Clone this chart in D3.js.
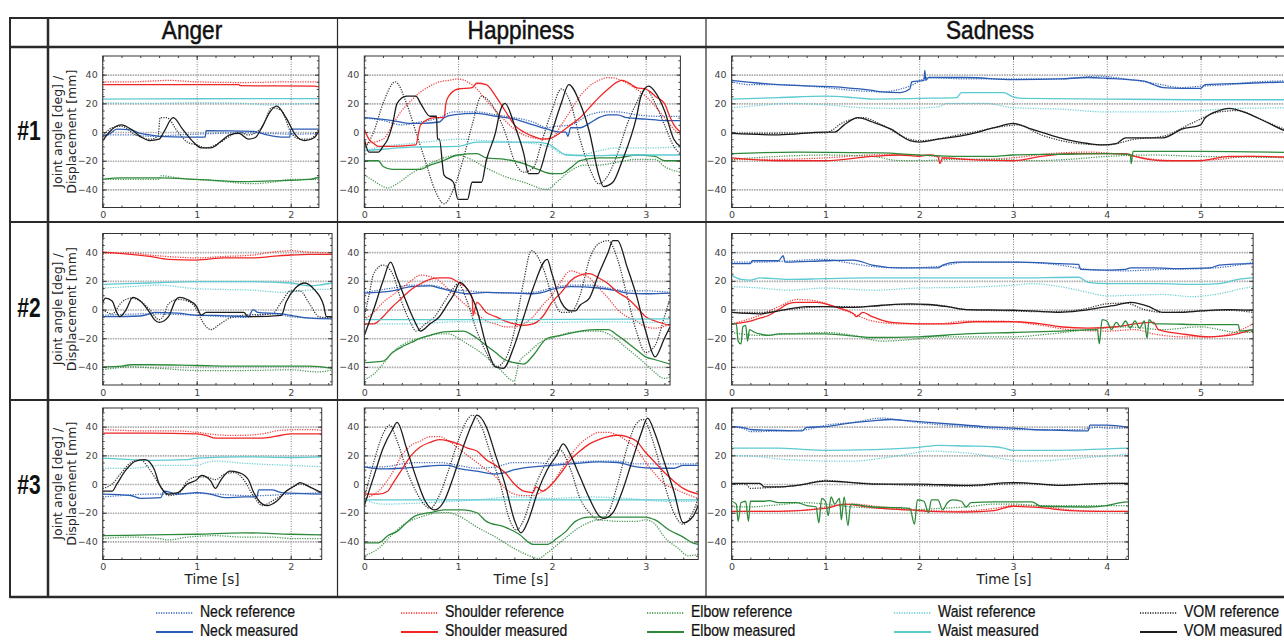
<!DOCTYPE html>
<html>
<head>
<meta charset="utf-8">
<script src="https://cdn.jsdelivr.net/npm/d3@7"></script>
<style>
  body { margin: 0; background: #fff; }
  .tick text { font-family: 'DejaVu Sans', sans-serif; font-size: 9.5px; fill: #444; }
</style>
</head>
<body>
<div id="chart"></div>
<script>
const emotions = ['Anger', 'Happiness', 'Sadness']
const trials = ['#1', '#2', '#3']
const joints = ['Neck', 'Shoulder', 'Elbow', 'Waist', 'VOM']
const yTicks = [-40, -20, 0, 20, 40]
const durations = [[2.3, 3.37, 6.2], [2.44, 3.26, 5.56], [2.33, 3.56, 4.23]]

// ---- Anger #1
const a1NeckRef = [[0,-2],[0.3,-2],[0.5,-3],[0.8,-2],[1.2,-1],[1.5,-0.5],[1.8,-1],[2.0,-1.5],[2.3,-1]]
const a1NeckMeas = [[0,-3],[0.08,-1],[0.15,2],[0.3,1.5],[0.4,-1],[0.5,-2],[0.6,-3],[0.9,-3.5],[1.09,-3.5],[1.1,1],[1.6,0.5],[1.75,-2],[1.9,-3.5],[1.99,-3.5],[2.0,2],[2.3,2]]
const a1ShoulderRef = [[0,35],[0.3,35],[0.5,35.5],[0.7,36],[1.0,35],[1.5,34.5],[2.0,35],[2.3,35]]
const a1ShoulderMeas = [[0,33],[1.45,33],[1.46,32.3],[2.25,32],[2.3,31.5]]
const a1ElbowRef = [[0,-33],[0.6,-33],[0.62,-30.5],[0.8,-32],[1.2,-34],[1.6,-36],[1.8,-35],[2.0,-33],[2.3,-33]]
const a1ElbowMeas = [[0,-33],[0.2,-32],[0.6,-32],[1.0,-33],[1.5,-34.5],[1.8,-34],[2.2,-33],[2.3,-31.5]]
const a1WaistRef = [[0,20.5],[0.5,20],[1.0,20.5],[1.5,20],[1.8,18.8],[2.0,19.5],[2.3,20]]
const a1WaistMeas = [[0,23],[1.0,23.2],[2.3,23.3]]
const a1VomRef = [[0,-3],[0.1,3],[0.2,4],[0.35,-2],[0.5,-5],[0.59,-3],[0.61,10],[0.68,10],[0.8,0],[0.9,-7],[1.0,-9],[1.1,-11],[1.2,-9],[1.35,-3],[1.45,0],[1.55,-2],[1.7,4],[1.8,17],[1.9,15],[2.0,0],[2.1,-5],[2.2,-5],[2.3,2]]
const a1VomMeas = [[0,-6],[0.1,2],[0.2,5],[0.3,2],[0.4,-3],[0.5,-6],[0.6,-5],[0.65,0],[0.75,10],[0.85,2],[0.95,-6],[1.05,-11],[1.15,-11],[1.25,-7],[1.35,-2],[1.45,-1],[1.55,-5],[1.62,-4],[1.7,4],[1.78,14],[1.85,18],[1.95,10],[2.05,-2],[2.15,-6],[2.25,-4],[2.3,1]]

// ---- Happiness #1
const h1NeckRef = [[0,10],[0.2,8],[0.4,5],[0.6,7],[0.8,10],[0.95,14],[1.2,14],[1.4,12],[1.6,10],[1.8,7],[1.95,3],[2.05,4],[2.2,5],[2.4,12],[2.55,14],[2.7,14],[2.9,12],[3.1,11],[3.37,11]]
const h1NeckMeas = [[0,10],[0.3,8],[0.5,6],[0.6,6],[0.8,7],[0.85,10],[0.95,12],[1.2,13],[1.4,11],[1.6,9],[1.8,5],[1.95,2],[2.1,0],[2.15,0],[2.17,-3],[2.2,3],[2.3,3],[2.4,6],[2.5,10],[2.6,12],[2.7,12],[2.8,10],[3.0,9],[3.2,8],[3.37,8]]
const h1ShoulderRef = [[0,-8],[0.2,-5],[0.3,5],[0.4,15],[0.5,22],[0.6,28],[0.7,32],[0.8,35],[0.9,36],[1.0,37],[1.1,35],[1.2,30],[1.3,22],[1.4,15],[1.5,8],[1.6,2],[1.7,-2],[1.8,-4],[1.9,-5],[2.0,-4],[2.1,5],[2.2,15],[2.3,25],[2.4,32],[2.5,36],[2.6,38],[2.7,37],[2.8,34],[2.9,30],[3.0,25],[3.1,18],[3.2,10],[3.3,2],[3.37,-2]]
const h1ShoulderMeas = [[0,2],[0.05,-5],[0.1,-8],[0.15,-10],[0.3,-10],[0.55,-9],[0.58,0],[0.6,5],[0.75,10],[0.85,10],[0.87,20],[0.9,25],[1.0,30],[1.15,31],[1.2,34],[1.3,33],[1.4,25],[1.5,15],[1.6,5],[1.7,0],[1.8,-3],[1.9,-5],[2.0,-4],[2.1,0],[2.2,5],[2.3,10],[2.4,17],[2.5,24],[2.6,30],[2.7,35],[2.75,36],[2.85,33],[2.9,31],[3.0,30],[3.05,28],[3.1,25],[3.2,20],[3.25,12],[3.3,5],[3.37,0]]
const h1ElbowRef = [[0,-30],[0.1,-34],[0.2,-38],[0.25,-39],[0.35,-36],[0.5,-29],[0.7,-22],[0.9,-17],[1.0,-16],[1.1,-18],[1.3,-25],[1.5,-31],[1.7,-35],[1.95,-40],[2.05,-35],[2.2,-27],[2.35,-23],[2.5,-23],[2.7,-21],[2.9,-19],[3.1,-19],[3.2,-24],[3.37,-28]]
const h1ElbowMeas = [[0,-20],[0.15,-20],[0.2,-24],[0.3,-26],[0.6,-26],[0.7,-23],[0.8,-21],[1.0,-16],[1.2,-15],[1.3,-18],[1.5,-19],[1.7,-22],[1.85,-26],[2.0,-29],[2.1,-29],[2.2,-25],[2.3,-20],[2.5,-18],[2.7,-18],[2.9,-16],[3.1,-17],[3.2,-20],[3.37,-20]]
const h1WaistRef = [[0,-13],[0.2,-10],[0.5,-8],[0.8,-6],[1.0,-5],[1.3,-6],[1.6,-7],[1.9,-9],[2.0,-11],[2.1,-15],[2.3,-16],[2.5,-13],[2.7,-11],[3.1,-11],[3.37,-10]]
const h1WaistMeas = [[0,-13],[0.2,-12],[0.5,-10.5],[1.0,-10],[1.2,-7],[1.8,-7],[1.95,-8],[2.05,-12],[2.15,-16],[2.4,-16.5],[2.8,-16],[3.37,-16]]
const h1VomRef = [[0,-12],[0.1,0],[0.2,20],[0.33,35],[0.45,20],[0.55,0],[0.65,-20],[0.75,-40],[0.85,-50],[0.95,-40],[1.05,-20],[1.15,5],[1.25,25],[1.35,20],[1.5,0],[1.6,-20],[1.7,-28],[1.8,-25],[1.9,-5],[2.0,15],[2.1,30],[2.2,20],[2.3,-5],[2.4,-25],[2.5,-36],[2.6,-30],[2.7,-15],[2.8,5],[2.9,20],[3.0,30],[3.1,20],[3.2,5],[3.3,-10],[3.37,-15]]
const h1VomMeas = [[0,-5],[0.05,-14],[0.15,-14],[0.2,-10],[0.25,-5],[0.3,5],[0.35,20],[0.45,25],[0.55,25],[0.6,20],[0.7,11],[0.77,11],[0.78,-5],[0.8,-5],[0.85,-30],[0.95,-35],[1.0,-47],[1.1,-47],[1.15,-35],[1.25,-35],[1.3,-20],[1.4,0],[1.45,15],[1.5,20],[1.6,5],[1.7,-15],[1.75,-29],[1.85,-29],[1.95,-10],[2.0,0],[2.1,20],[2.18,33],[2.3,20],[2.4,0],[2.5,-30],[2.55,-38],[2.65,-35],[2.75,-20],[2.9,10],[2.95,25],[3.03,32],[3.1,28],[3.2,15],[3.3,-5],[3.37,-10]]

// ---- Sadness #1
const s1NeckRef = [[0,35],[0.2,33],[0.5,33],[1.0,31],[1.3,29],[1.6,28],[1.9,32],[2.1,38],[2.5,37],[3.0,37],[3.5,37],[3.9,39],[4.2,37],[4.5,34],[4.8,31],[5.0,32],[5.3,33],[5.6,35],[6.2,36]]
const s1NeckMeas = [[0,36],[0.3,34],[0.5,33],[0.9,32],[1.2,31],[1.5,29],[1.6,28],[1.8,27.5],[1.9,30],[1.92,35],[2.05,36],[2.06,43],[2.07,36],[2.1,38],[2.5,38],[3.0,36.5],[3.5,37],[3.8,38],[4.0,37.5],[4.4,35.5],[4.5,33],[4.6,31],[4.8,30.5],[5.0,30.5],[5.05,33],[5.5,34],[6.2,35.5]]
const s1ShoulderRef = [[0,-19],[0.5,-19],[1.0,-18],[1.5,-16],[2.0,-16],[2.3,-18],[2.6,-19],[3.0,-18],[3.4,-15],[3.8,-14],[4.2,-16],[4.5,-19],[4.8,-20],[5.2,-19],[5.5,-17],[6.2,-19]]
const s1ShoulderMeas = [[0,-18],[0.5,-20],[1.0,-20],[1.5,-17],[1.8,-16],[2.0,-17],[2.1,-16],[2.2,-17],[2.22,-22],[2.25,-18],[2.5,-19],[3.0,-20],[3.3,-17],[3.6,-15],[4.2,-15],[4.3,-17],[4.6,-20],[5.0,-20],[5.1,-19],[5.3,-17],[5.6,-17],[6.2,-18]]
const s1ElbowRef = [[0,-19],[0.5,-17],[1.0,-16],[1.5,-17],[1.8,-20],[2.0,-20],[2.4,-19],[2.8,-19],[3.2,-20],[3.6,-19],[4.0,-17],[4.5,-16],[5.0,-17],[5.5,-17.5],[6.2,-18]]
const s1ElbowMeas = [[0,-15],[0.7,-14],[1.6,-14.5],[2.0,-16],[2.5,-17],[2.8,-17],[3.0,-16],[3.5,-15.5],[4.0,-15],[4.25,-15.5],[4.26,-22],[4.28,-13.5],[5.0,-13.5],[6.2,-14.5]]
const s1WaistRef = [[0,17],[0.3,18.5],[0.6,20],[1.0,19],[1.4,17],[1.8,16.5],[2.2,17.5],[2.3,20],[2.7,20],[3.0,17],[3.5,16],[4.0,14],[4.5,14],[5.0,15],[5.4,16.5],[6.2,17]]
const s1WaistMeas = [[0,23],[0.5,24],[1.0,25],[1.3,24],[1.5,23],[2.0,23.5],[2.4,24],[2.45,27.5],[2.9,27.5],[3.0,24.5],[3.1,23.5],[4.0,23],[5.0,22.5],[6.2,22.5]]
const s1VomRef = [[0,-1],[1.0,-0.5],[1.2,7],[1.4,10],[1.6,5],[1.9,-5],[2.0,-6],[2.5,-1],[2.9,4],[3.05,5],[3.3,-2],[3.7,-8],[4.0,-9],[4.3,-5],[4.6,-3],[4.9,6],[5.2,14],[5.4,15],[5.6,10],[5.9,2],[6.2,-2]]
const s1VomMeas = [[0,-1],[0.5,-2],[1.0,0],[1.1,0],[1.2,5],[1.35,10],[1.5,7],[1.7,2],[1.9,-6],[2.0,-7],[2.2,-5],[2.5,-2],[2.8,3],[3.0,6],[3.2,2],[3.5,-4],[3.8,-8],[3.95,-9],[4.1,-8],[4.2,-4],[4.6,-4],[4.8,2],[5.0,5],[5.05,10],[5.2,15],[5.3,16.5],[5.5,13],[5.7,7],[5.9,1],[6.2,-2]]

// ---- Anger #2
const a2NeckRef = [[0,-4],[0.5,-3],[1.0,-4],[1.5,-5.5],[1.8,-3],[2.0,-5],[2.3,-6],[2.44,-5.5]]
const a2NeckMeas = [[0,-5],[0.4,-4.5],[0.5,-3],[0.55,-2],[0.8,-2.5],[1.0,-4],[1.2,-4],[1.55,-5],[1.6,0],[1.65,-2],[1.9,-3],[2.0,-4],[2.2,-6],[2.44,-6.5]]
const a2ShoulderRef = [[0,39],[0.3,39.5],[0.5,38],[0.8,36.5],[1.0,36],[1.3,37],[1.6,38],[1.8,40],[2.0,41],[2.2,40],[2.44,39.5]]
const a2ShoulderMeas = [[0,40],[0.3,38.5],[0.5,37],[0.7,35],[1.0,34.5],[1.3,36],[1.6,36],[1.8,37],[2.0,38],[2.2,38.5],[2.44,38.5]]
const a2ElbowRef = [[0,-42],[0.3,-40],[0.6,-41],[1.0,-42.5],[1.5,-42.5],[2.0,-42],[2.3,-43.5],[2.44,-42]]
const a2ElbowMeas = [[0,-40],[0.2,-39.5],[0.3,-38.5],[0.5,-38.5],[1.0,-39],[1.5,-39.5],[2.2,-39.5],[2.44,-41]]
const a2WaistRef = [[0,15],[0.3,16],[0.6,17],[1.0,14.5],[1.3,14],[1.6,13.5],[1.9,12],[2.1,13],[2.3,14],[2.44,14]]
const a2WaistMeas = [[0,17.5],[0.5,18.5],[1.0,19.5],[1.5,19.5],[2.0,18.5],[2.2,16.5],[2.3,17],[2.44,18.5]]
const a2VomRef = [[0,0],[0.1,-3],[0.2,5],[0.3,8],[0.4,6],[0.5,0],[0.6,-7],[0.65,-4],[0.7,4],[0.8,7],[0.9,6],[1.0,0],[1.05,-7],[1.1,-12],[1.15,-14],[1.25,-10],[1.35,-6],[1.5,-4],[1.8,-3],[1.9,5],[2.0,13],[2.1,13],[2.2,4],[2.3,-5],[2.44,-6]]
const a2VomMeas = [[0,5],[0.03,8],[0.1,6],[0.15,-2],[0.18,-5],[0.25,0],[0.32,8.5],[0.4,6],[0.5,-2],[0.55,-7],[0.6,-9],[0.7,-5],[0.78,7],[0.82,8.5],[0.9,7],[1.0,2],[1.05,-4],[1.1,-2],[1.5,-2],[1.55,-5],[1.9,-4],[1.95,5],[2.05,15],[2.15,18.5],[2.25,14],[2.35,3],[2.38,-5],[2.44,-5]]

// ---- Happiness #2
const h2NeckRef = [[0,12],[0.3,15],[0.5,17],[0.7,17],[0.9,14],[1.1,13],[1.3,12],[1.5,11.5],[1.8,12],[2.0,15],[2.2,17],[2.4,17],[2.6,15],[2.8,13],[3.0,13],[3.26,12]]
const h2NeckMeas = [[0,11.5],[0.3,13],[0.5,16],[0.7,16.5],[0.8,15],[1.0,12],[1.1,11],[1.3,12],[1.6,11.5],[1.8,11],[1.9,12],[2.0,14],[2.2,16],[2.5,15],[2.7,13],[2.8,11.5],[3.0,11],[3.26,11.5]]
const h2ShoulderRef = [[0,-7],[0.1,-2],[0.2,5],[0.3,10],[0.4,15],[0.5,20],[0.6,24],[0.7,23],[0.8,20],[0.9,14],[1.0,8],[1.1,2],[1.2,-3],[1.3,-8],[1.4,-10],[1.5,-12],[1.6,-12],[1.7,-10],[1.8,-5],[1.9,3],[2.0,10],[2.1,20],[2.2,27],[2.3,25],[2.4,22],[2.5,15],[2.6,8],[2.7,0],[2.8,-5],[2.9,-8],[3.0,-12],[3.1,-13],[3.26,-10]]
const h2ShoulderMeas = [[0,-10],[0.1,-10],[0.2,-5],[0.3,2],[0.4,8],[0.5,14],[0.6,18],[0.7,21],[0.8,22],[0.9,22],[1.0,19],[1.1,14],[1.15,8],[1.16,-4],[1.2,5],[1.3,-2],[1.4,-5],[1.5,-8],[1.6,-10],[1.7,-11],[1.8,-10],[1.9,-5],[2.0,5],[2.1,12],[2.2,20],[2.3,24],[2.4,25],[2.5,22],[2.6,18],[2.7,12],[2.8,8],[2.9,2],[3.0,-5],[3.1,-8],[3.26,-11]]
const h2ElbowRef = [[0,-49],[0.1,-45],[0.2,-38],[0.3,-30],[0.45,-23],[0.6,-20],[0.8,-17],[0.9,-17],[1.0,-20],[1.1,-24],[1.2,-28],[1.3,-33],[1.45,-42],[1.6,-50],[1.62,-45],[1.65,-37],[1.75,-30],[1.9,-22],[2.0,-20],[2.2,-16],[2.5,-15],[2.6,-17],[2.8,-27],[3.0,-38],[3.1,-44],[3.2,-48],[3.26,-47]]
const h2ElbowMeas = [[0,-37],[0.2,-36],[0.3,-30],[0.4,-26],[0.5,-23],[0.6,-20],[0.7,-18],[0.85,-15.5],[1.05,-15],[1.2,-20],[1.3,-25],[1.4,-30],[1.5,-35],[1.6,-37],[1.7,-38],[1.8,-32],[1.95,-20],[2.1,-18],[2.3,-15],[2.5,-14],[2.6,-14],[2.7,-18],[2.9,-28],[3.0,-33],[3.1,-35],[3.26,-38]]
const h2WaistRef = [[0,-10],[0.5,-10],[1.0,-8.5],[1.5,-9],[2.0,-9],[2.5,-8.5],[3.0,-9],[3.26,-9]]
const h2WaistMeas = [[0,-7],[1.5,-7],[3.26,-6.5]]
const h2VomRef = [[0,-5],[0.05,10],[0.1,25],[0.2,31],[0.3,25],[0.4,5],[0.5,-10],[0.55,-15],[0.65,-10],[0.75,-5],[0.85,5],[0.95,15],[1.0,18],[1.1,5],[1.2,-15],[1.3,-30],[1.4,-40],[1.5,-35],[1.6,-15],[1.7,20],[1.78,41],[1.9,30],[2.0,10],[2.1,-2],[2.2,-2],[2.3,10],[2.4,35],[2.5,46],[2.6,48],[2.7,35],[2.8,10],[2.9,-15],[3.0,-30],[3.1,-25],[3.2,-5],[3.26,8]]
const h2VomMeas = [[0,-18],[0.1,0],[0.2,20],[0.28,33],[0.35,22],[0.45,5],[0.5,-3],[0.55,-10],[0.6,-15],[0.7,-10],[0.8,-5],[0.9,5],[0.95,10],[1.02,19],[1.1,14],[1.2,0],[1.3,-25],[1.4,-40],[1.48,-41],[1.6,-25],[1.7,-5],[1.8,15],[1.95,35],[2.0,25],[2.1,5],[2.2,-1],[2.25,-1],[2.3,3],[2.4,8],[2.5,25],[2.6,40],[2.65,48],[2.7,48],[2.8,30],[2.9,10],[3.0,-15],[3.1,-33],[3.2,-20],[3.26,-12]]

// ---- Sadness #2
const s2NeckRef = [[0,33],[0.3,33],[0.5,33.5],[1.0,35],[1.2,33],[1.5,30],[1.8,29],[2.2,30],[2.5,33],[3.0,33],[3.5,31],[3.8,28],[4.2,27],[4.6,28],[5.0,28.5],[5.3,30],[5.56,33]]
const s2NeckMeas = [[0,32],[0.2,32],[0.22,34],[0.5,34],[0.55,37.5],[0.57,33],[1.0,34],[1.3,34.5],[1.5,31],[1.8,29],[2.2,29],[2.25,31],[2.4,33],[3.0,33],[3.5,32],[3.7,31.5],[3.72,28],[4.0,27.5],[4.2,28],[4.25,29],[4.5,29],[4.8,28.5],[5.1,29],[5.2,31],[5.56,32]]
const s2ShoulderRef = [[0,-10],[0.3,-4],[0.5,2],[0.7,7],[0.9,6],[1.1,2],[1.3,-3],[1.5,-8],[1.8,-10],[2.2,-10],[2.5,-8],[2.8,-8],[3.0,-8.5],[3.3,-11],[3.6,-14],[4.0,-15],[4.3,-14],[4.5,-17],[4.8,-19],[5.1,-19],[5.4,-15],[5.56,-10]]
const s2ShoulderMeas = [[0,-10],[0.2,-8],[0.3,-6],[0.4,-4],[0.5,0],[0.6,4],[0.7,5],[0.9,5],[1.0,4],[1.1,2],[1.2,0],[1.3,-3],[1.33,-5],[1.4,-2],[1.5,-5],[1.7,-9],[2.0,-10],[2.3,-10],[2.6,-8.5],[3.0,-8.5],[3.3,-10],[3.5,-12],[3.8,-13],[4.1,-12],[4.3,-10],[4.5,-9],[4.55,-14],[4.8,-17],[5.1,-19],[5.3,-18],[5.56,-14]]
const s2ElbowRef = [[0,-16],[0.3,-18],[0.6,-17],[1.0,-16],[1.3,-18],[1.6,-22],[1.9,-21],[2.2,-19],[2.6,-19],[3.0,-19],[3.4,-17],[3.8,-14],[4.2,-12],[4.6,-14],[5.0,-12],[5.2,-14],[5.4,-16],[5.56,-16]]
const s2ElbowMeas = [[0,-10],[0.05,-10],[0.07,-22],[0.1,-24],[0.12,-12],[0.15,-11],[0.17,-22],[0.19,-14],[0.25,-16],[0.3,-17],[0.4,-18],[0.5,-17],[1.0,-17],[1.5,-19.5],[2.0,-19],[2.5,-17],[3.0,-16],[3.5,-15],[3.9,-14],[3.92,-24],[3.95,-7],[4.0,-8],[4.05,-14],[4.1,-9],[4.15,-12],[4.2,-8],[4.25,-13],[4.3,-8],[4.35,-13],[4.4,-8],[4.43,-20],[4.45,-7],[4.5,-10],[4.6,-10],[5.0,-10.5],[5.4,-10.5],[5.42,-15],[5.56,-14]]
const s2WaistRef = [[0,16],[0.3,15],[0.6,13.5],[1.0,15],[1.5,13.5],[2.0,15],[2.5,15.5],[3.0,17],[3.2,18],[3.5,16],[3.8,12],[4.0,9.5],[4.3,10],[4.6,10.5],[4.9,9],[5.2,11],[5.4,14],[5.56,16]]
const s2WaistMeas = [[0,24],[0.1,21],[0.2,20.5],[0.3,22],[0.6,21],[1.0,21.5],[1.5,22],[3.0,22],[3.7,22.5],[3.8,19],[4.0,18],[4.5,18],[5.0,17.5],[5.2,18],[5.4,21],[5.56,22]]
const s2VomRef = [[0,-2],[0.3,-2],[0.6,0],[1.0,2],[1.4,2],[1.8,3.5],[2.2,3],[2.5,0],[3.0,-1],[3.3,-1.5],[3.6,-1],[3.8,1],[4.0,4],[4.2,4.5],[4.4,0],[4.6,-2],[5.0,-1],[5.3,-0.5],[5.56,-2]]
const s2VomMeas = [[0,-2],[0.3,-3],[0.5,-1],[0.8,2],[1.0,2],[1.3,1.5],[1.6,3],[1.9,4],[2.1,3.5],[2.3,2],[2.5,0],[3.0,-0.5],[3.2,-1],[3.5,-2],[3.7,-1],[3.9,1],[4.1,3],[4.25,5],[4.35,4],[4.45,2],[4.6,-2],[4.8,-2],[5.0,-1],[5.3,0],[5.56,-0.5]]

// ---- Anger #3
const a3NeckRef = [[0,-9],[0.2,-8],[0.5,-7],[0.8,-7],[1.0,-6.5],[1.2,-7],[1.5,-8],[1.7,-8],[2.0,-7],[2.33,-6]]
const a3NeckMeas = [[0,-7],[0.3,-8],[0.4,-10],[0.62,-9.5],[0.65,-5],[0.8,-7],[1.0,-6],[1.1,-6.5],[1.2,-8],[1.3,-9.5],[1.5,-9],[1.64,-9],[1.66,-4],[1.8,-4],[1.9,-6],[2.33,-7]]
const a3ShoulderRef = [[0,38],[0.5,37],[0.8,37],[1.0,36],[1.3,34],[1.5,34],[1.7,35],[1.9,37.5],[2.2,38],[2.33,37.5]]
const a3ShoulderMeas = [[0,35.5],[0.5,35.5],[1.0,35],[1.1,34],[1.2,32],[1.7,32],[1.9,34],[2.0,35],[2.33,35]]
const a3ElbowRef = [[0,-38],[0.3,-37],[0.6,-38],[0.7,-39],[0.9,-37],[1.2,-36],[1.5,-37],[1.8,-37],[2.0,-38],[2.33,-38]]
const a3ElbowMeas = [[0,-36],[0.5,-35.5],[1.0,-35],[1.5,-34],[2.0,-35],[2.33,-35.5]]
const a3WaistRef = [[0,11],[0.3,11],[0.6,13],[1.0,13],[1.1,15],[1.2,16],[1.5,14.5],[1.8,13.5],[2.0,13],[2.33,12]]
const a3WaistMeas = [[0,18],[0.3,17],[0.5,16.5],[0.9,17],[1.0,18],[1.5,19],[2.0,18.5],[2.33,19]]
const a3VomRef = [[0,-3],[0.1,0],[0.2,8],[0.3,15],[0.4,17],[0.5,10],[0.6,0],[0.7,-8],[0.8,-7],[0.9,2],[1.0,5],[1.1,5],[1.2,3],[1.3,7],[1.4,8],[1.5,3],[1.6,-8],[1.7,-15],[1.8,-12],[1.9,-8],[2.0,-3],[2.1,0],[2.2,-2],[2.33,-7]]
const a3VomMeas = [[0,-5],[0.1,-5],[0.15,0],[0.25,10],[0.35,16],[0.45,17],[0.55,10],[0.6,0],[0.65,-5],[0.7,-7],[0.8,-6],[0.9,0],[1.0,3],[1.05,6],[1.15,2],[1.2,-3],[1.25,2],[1.35,9],[1.45,8],[1.55,3],[1.6,-5],[1.7,-14],[1.75,-15],[1.85,-12],[1.95,-5],[2.05,-1],[2.1,1],[2.2,-2],[2.33,-6]]

// ---- Happiness #3
const h3NeckRef = [[0,12],[0.2,12],[0.4,14],[0.6,15],[0.8,15],[1.0,13],[1.2,11],[1.4,12],[1.6,15],[1.8,15],[2.0,14],[2.2,15],[2.5,16],[2.7,16],[2.9,14],[3.3,14],[3.56,14]]
const h3NeckMeas = [[0,12],[0.2,10.5],[0.4,11],[0.6,12],[0.8,13],[0.9,13],[1.0,11],[1.2,9],[1.4,7],[1.5,8],[1.6,10],[1.8,12],[2.0,13],[2.2,14],[2.5,15.5],[2.7,15],[2.9,12],[3.1,11],[3.3,11],[3.4,13],[3.56,13]]
const h3ShoulderRef = [[0,-10],[0.15,-5],[0.3,8],[0.4,20],[0.5,27],[0.6,30],[0.7,33],[0.8,33],[0.9,30],[1.0,25],[1.1,20],[1.2,15],[1.3,10],[1.4,5],[1.5,-3],[1.6,-7],[1.7,-8],[1.8,-8],[1.9,-5],[2.0,0],[2.1,10],[2.2,20],[2.3,28],[2.4,33],[2.5,36],[2.6,36],[2.7,34],[2.8,30],[2.9,25],[3.0,15],[3.1,7],[3.2,0],[3.3,-3],[3.4,-6],[3.56,-10]]
const h3ShoulderMeas = [[0,-7],[0.15,-7],[0.25,-5],[0.3,0],[0.4,10],[0.5,20],[0.6,26],[0.7,29],[0.8,31],[0.9,30],[1.0,28],[1.1,25],[1.2,23],[1.3,17],[1.4,13],[1.5,8],[1.6,0],[1.7,-5],[1.8,-6],[1.83,-2],[1.9,-5],[2.0,0],[2.1,8],[2.2,17],[2.3,23],[2.4,28],[2.5,31],[2.6,33],[2.7,34],[2.8,33],[2.9,30],[3.0,22],[3.1,15],[3.2,8],[3.3,2],[3.4,-3],[3.56,-7]]
const h3ElbowRef = [[0,-50],[0.15,-45],[0.3,-35],[0.45,-27],[0.6,-23],[0.8,-20],[0.9,-20],[1.0,-22],[1.2,-30],[1.4,-37],[1.6,-45],[1.8,-51],[1.85,-52],[1.95,-48],[2.1,-40],[2.3,-30],[2.5,-25],[2.7,-26],[2.9,-26],[3.0,-25],[3.1,-28],[3.2,-37],[3.35,-45],[3.45,-50],[3.56,-49]]
const h3ElbowMeas = [[0,-41],[0.15,-41],[0.25,-36],[0.35,-33],[0.45,-27],[0.55,-22],[0.7,-20],[0.85,-18],[1.05,-18],[1.2,-20],[1.3,-26],[1.5,-30],[1.65,-35],[1.8,-42],[1.95,-42],[2.05,-38],[2.15,-33],[2.25,-26],[2.4,-23],[3.0,-23],[3.1,-25],[3.25,-32],[3.4,-37],[3.5,-41],[3.56,-42]]
const h3WaistRef = [[0,-11],[0.2,-14],[0.5,-13.5],[0.8,-12.5],[1.2,-11],[1.6,-9],[2.0,-10],[2.4,-9],[2.8,-10],[3.2,-12],[3.56,-12]]
const h3WaistMeas = [[0,-11],[1.5,-11],[3.56,-11]]
const h3VomRef = [[0,-10],[0.1,15],[0.2,35],[0.27,41],[0.35,30],[0.45,10],[0.55,-5],[0.65,-15],[0.7,-17],[0.8,-8],[0.9,10],[1.0,30],[1.1,45],[1.15,48],[1.25,40],[1.35,20],[1.45,0],[1.55,-25],[1.62,-32],[1.7,-25],[1.8,-5],[1.9,10],[2.0,20],[2.08,24],[2.2,10],[2.3,-10],[2.4,-20],[2.5,-25],[2.6,-20],[2.7,0],[2.8,25],[2.9,42],[2.97,45],[3.1,25],[3.2,0],[3.3,-20],[3.4,-28],[3.5,-20],[3.56,-10]]
const h3VomMeas = [[0,-15],[0.1,5],[0.2,25],[0.3,38],[0.35,43],[0.45,25],[0.55,5],[0.65,-12],[0.75,-18],[0.85,-12],[0.95,5],[1.05,25],[1.15,42],[1.2,48],[1.3,40],[1.4,20],[1.5,0],[1.6,-25],[1.67,-34],[1.75,-25],[1.85,-5],[1.95,10],[2.05,20],[2.12,28],[2.2,20],[2.3,5],[2.4,-10],[2.5,-22],[2.55,-24],[2.65,-20],[2.75,-5],[2.85,15],[2.95,35],[3.02,46],[3.1,35],[3.2,15],[3.3,-5],[3.4,-27],[3.5,-23],[3.56,-15]]

// ---- Sadness #3
const s3NeckRef = [[0,40],[0.15,38],[0.2,36.5],[0.5,37],[0.8,38],[1.0,41],[1.3,43],[1.6,46],[1.8,44.5],[2.1,42],[2.5,40],[3.0,38],[3.7,38],[3.9,39.5],[4.0,39],[4.23,39]]
const s3NeckMeas = [[0,40],[0.15,39],[0.2,38],[0.4,37.5],[0.75,37],[0.8,39.5],[1.0,40],[1.2,42],[1.5,44],[1.7,45],[1.9,44],[2.1,43],[2.4,41.5],[2.7,40],[3.0,39],[3.2,38],[3.5,37.5],[3.8,37],[3.82,41],[4.0,41],[4.23,39.5]]
const s3ShoulderRef = [[0,-19],[0.5,-19],[0.8,-18],[1.0,-16],[1.3,-14],[1.6,-16],[2.0,-18],[2.4,-19],[2.8,-17],[3.0,-15],[3.3,-15.5],[3.6,-18],[4.0,-19],[4.23,-19]]
const s3ShoulderMeas = [[0,-19],[0.5,-19],[1.0,-17],[1.2,-14],[1.4,-15.5],[1.6,-17],[1.9,-18],[2.1,-19],[2.5,-19.5],[2.8,-18.5],[3.0,-15.5],[3.3,-16.5],[3.6,-18.5],[3.9,-19],[4.23,-19]]
const s3ElbowRef = [[0,-16],[0.2,-16],[0.4,-15],[0.8,-13],[1.0,-14],[1.3,-16],[1.6,-17],[1.9,-18],[2.2,-17],[2.5,-16],[2.8,-14],[3.0,-14],[3.3,-15],[4.23,-15]]
const s3ElbowMeas = [[0,-12],[0.05,-14],[0.07,-26],[0.1,-13],[0.15,-12],[0.18,-26],[0.2,-12],[0.35,-12],[0.4,-11.5],[0.5,-13],[0.7,-13],[0.8,-15],[0.9,-16],[0.93,-27],[0.96,-10],[1.0,-12],[1.03,-22],[1.06,-9],[1.1,-14],[1.15,-10],[1.17,-25],[1.2,-9],[1.24,-29],[1.27,-14],[1.4,-15],[1.5,-16],[1.8,-16.5],[1.9,-17],[1.95,-28],[1.98,-11],[2.05,-12],[2.1,-20],[2.13,-11],[2.2,-11],[2.25,-18],[2.3,-13],[2.35,-11],[2.45,-12],[2.5,-16],[2.55,-13],[2.8,-12.5],[3.2,-12.5],[3.3,-15.5],[3.8,-16],[4.0,-15],[4.15,-13],[4.23,-12.5]]
const s3WaistRef = [[0,20],[0.3,19],[0.5,17.5],[0.8,16.5],[1.0,16],[1.3,16],[1.6,18],[1.9,21],[2.1,23],[2.3,22.5],[2.6,21],[2.9,17.5],[3.1,16],[3.4,16.5],[3.7,18],[4.0,19.5],[4.23,21]]
const s3WaistMeas = [[0,25],[0.5,25],[0.8,24],[1.0,23.5],[1.5,24],[2.0,25.5],[2.2,27],[2.5,26.5],[2.8,26],[2.9,25],[3.0,23.5],[3.5,23.5],[4.0,24.5],[4.23,25]]
const s3VomRef = [[0,0],[0.15,0],[0.2,-3],[0.4,-2.5],[0.7,-1],[1.0,2.5],[1.3,1],[1.6,0],[2.0,-1],[2.5,-1.5],[2.9,0],[3.1,0.5],[3.5,-1],[3.8,0],[4.23,0.5]]
const s3VomMeas = [[0,0.5],[0.3,0.5],[0.35,-2],[0.5,-2],[0.7,-1],[1.0,2],[1.2,1.5],[1.5,0],[2.0,0],[2.5,-1],[3.0,1],[3.3,0],[3.5,-1],[3.8,0],[4.0,0.5],[4.23,0.5]]

const jointColors = ['#2b5cb4', '#f02626', '#2e8a3b', '#5ccad1', '#1c1c1c']

const panels = [
  { row: 0, col: 0, ref: [a1NeckRef, a1ShoulderRef, a1ElbowRef, a1WaistRef, a1VomRef], meas: [a1NeckMeas, a1ShoulderMeas, a1ElbowMeas, a1WaistMeas, a1VomMeas] },
  { row: 0, col: 1, ref: [h1NeckRef, h1ShoulderRef, h1ElbowRef, h1WaistRef, h1VomRef], meas: [h1NeckMeas, h1ShoulderMeas, h1ElbowMeas, h1WaistMeas, h1VomMeas] },
  { row: 0, col: 2, ref: [s1NeckRef, s1ShoulderRef, s1ElbowRef, s1WaistRef, s1VomRef], meas: [s1NeckMeas, s1ShoulderMeas, s1ElbowMeas, s1WaistMeas, s1VomMeas] },
  { row: 1, col: 0, ref: [a2NeckRef, a2ShoulderRef, a2ElbowRef, a2WaistRef, a2VomRef], meas: [a2NeckMeas, a2ShoulderMeas, a2ElbowMeas, a2WaistMeas, a2VomMeas] },
  { row: 1, col: 1, ref: [h2NeckRef, h2ShoulderRef, h2ElbowRef, h2WaistRef, h2VomRef], meas: [h2NeckMeas, h2ShoulderMeas, h2ElbowMeas, h2WaistMeas, h2VomMeas] },
  { row: 1, col: 2, ref: [s2NeckRef, s2ShoulderRef, s2ElbowRef, s2WaistRef, s2VomRef], meas: [s2NeckMeas, s2ShoulderMeas, s2ElbowMeas, s2WaistMeas, s2VomMeas] },
  { row: 2, col: 0, ref: [a3NeckRef, a3ShoulderRef, a3ElbowRef, a3WaistRef, a3VomRef], meas: [a3NeckMeas, a3ShoulderMeas, a3ElbowMeas, a3WaistMeas, a3VomMeas] },
  { row: 2, col: 1, ref: [h3NeckRef, h3ShoulderRef, h3ElbowRef, h3WaistRef, h3VomRef], meas: [h3NeckMeas, h3ShoulderMeas, h3ElbowMeas, h3WaistMeas, h3VomMeas] },
  { row: 2, col: 2, ref: [s3NeckRef, s3ShoulderRef, s3ElbowRef, s3WaistRef, s3VomRef], meas: [s3NeckMeas, s3ShoulderMeas, s3ElbowMeas, s3WaistMeas, s3VomMeas] }
]

// layout
const W = 1284, H = 640
const colLeft = [102.7, 364.3, 731.6]
const pxPerSec = [94, 93.8, 93.8]
const rowTop = [56, 233.5, 408]
const plotH = 151.5
const yDomain = [-52.6, 53]
const headerX = [192, 521, 990]
const rowLabelY = [133, 310, 487]
const timeLabelX = [212, 521, 1004]
const condensed = "'Liberation Sans', Arial, sans-serif"

const svg = d3.select('#chart').append('svg')
  .attr('width', W)
  .attr('height', H)
  .style('font-family', 'DejaVu Sans, sans-serif')

// squeezed text, stands in for a condensed face
function narrowText(parent, x, y, str, size, sx, opts = {}) {
  return parent.append('text')
    .attr('transform', `translate(${x},${y}) scale(${sx},1)`)
    .attr('text-anchor', opts.anchor || 'start')
    .attr('dominant-baseline', 'middle')
    .style('font-family', condensed)
    .style('font-size', size + 'px')
    .style('font-weight', opts.weight || 'normal')
    .attr('fill', '#111')
    .attr('stroke', opts.stroke ? '#111' : null)
    .attr('stroke-width', opts.stroke || null)
    .text(str)
}

// table grid
const tbl = svg.append('g').attr('stroke', '#2a2a2a').attr('fill', 'none')
tbl.append('line').attr('x1', 10).attr('x2', W).attr('y1', 18).attr('y2', 18).attr('stroke-width', 2)
tbl.append('line').attr('x1', 10).attr('x2', W).attr('y1', 47).attr('y2', 47).attr('stroke-width', 2.5)
tbl.append('line').attr('x1', 10).attr('x2', W).attr('y1', 222).attr('y2', 222).attr('stroke-width', 2)
tbl.append('line').attr('x1', 10).attr('x2', W).attr('y1', 400).attr('y2', 400).attr('stroke-width', 2)
tbl.append('line').attr('x1', 10).attr('x2', W).attr('y1', 597).attr('y2', 597).attr('stroke-width', 2.5)
tbl.append('line').attr('x1', 10).attr('x2', 10).attr('y1', 17).attr('y2', 598).attr('stroke-width', 2)
tbl.append('line').attr('x1', 48).attr('x2', 48).attr('y1', 17).attr('y2', 598).attr('stroke-width', 2.5)
tbl.append('line').attr('x1', 337.5).attr('x2', 337.5).attr('y1', 18).attr('y2', 597).attr('stroke-width', 1.2)
tbl.append('line').attr('x1', 706).attr('x2', 706).attr('y1', 18).attr('y2', 597).attr('stroke-width', 1.2)

emotions.forEach((e, i) => {
  narrowText(svg, headerX[i], 32, e, 26, 0.87, { anchor: 'middle', stroke: 0.5 })
})

trials.forEach((t, i) => {
  narrowText(svg, 29, rowLabelY[i], t, 28, 0.75, { anchor: 'middle', weight: 'bold' })
})

const defs = svg.append('defs')

panels.forEach((p, idx) => {
  const xMax = durations[p.row][p.col]
  const left = colLeft[p.col]
  const top = rowTop[p.row]
  const width = xMax * pxPerSec[p.col]

  const x = d3.scaleLinear().domain([0, xMax]).range([left, left + width])
  const y = d3.scaleLinear().domain(yDomain).range([top + plotH, top])

  defs.append('clipPath').attr('id', 'clip' + idx)
    .append('rect').attr('x', left).attr('y', top).attr('width', width).attr('height', plotH)

  const g = svg.append('g')
  const majorX = d3.range(0, Math.floor(xMax) + 1)
  const labelX = majorX.filter(v => x(v) < W - 8)
  const minorX = d3.range(0, xMax, 0.2)
  const minorY = d3.range(-50, 55, 5)

  // grid
  g.append('g')
    .attr('transform', `translate(0,${top + plotH})`)
    .call(d3.axisBottom(x).tickValues(majorX).tickSize(-plotH).tickFormat(''))
    .call(a => a.select('.domain').remove())
    .selectAll('line').attr('stroke', '#777').attr('stroke-width', 0.9).attr('stroke-dasharray', '1,1.5')
  g.append('g')
    .attr('transform', `translate(${left},0)`)
    .call(d3.axisLeft(y).tickValues(yTicks).tickSize(-width).tickFormat(''))
    .call(a => a.select('.domain').remove())
    .selectAll('line').attr('stroke', '#a8a8a8').attr('stroke-width', 1.6).attr('stroke-dasharray', '1.5,1')

  const line = d3.line()
    .x(d => x(d[0]))
    .y(d => y(d[1]))
    .curve(d3.curveMonotoneX)

  const lines = g.append('g').attr('clip-path', `url(#clip${idx})`)
  p.ref.forEach((s, j) => {
    lines.append('path').datum(s)
      .attr('d', line)
      .attr('fill', 'none')
      .attr('stroke', jointColors[j])
      .attr('stroke-width', 1.25)
      .attr('stroke-dasharray', '1.2,1.3')
      .attr('opacity', 0.9)
  })
  p.meas.forEach((s, j) => {
    lines.append('path').datum(s)
      .attr('d', line)
      .attr('fill', 'none')
      .attr('stroke', jointColors[j])
      .attr('stroke-width', 1.3)
  })

  // axes with inward ticks
  const bottom = g.append('g').attr('transform', `translate(0,${top + plotH})`)
  bottom.call(d3.axisBottom(x).tickValues(labelX).tickSize(-4).tickPadding(4).tickFormat(d3.format('d')))
  bottom.append('g').call(d3.axisBottom(x).tickValues(minorX).tickSize(-2).tickFormat(''))
  const topAx = g.append('g').attr('transform', `translate(0,${top})`)
  topAx.call(d3.axisTop(x).tickValues(majorX).tickSize(-4).tickFormat(''))
  topAx.append('g').call(d3.axisTop(x).tickValues(minorX).tickSize(-2).tickFormat(''))
  const leftAx = g.append('g').attr('transform', `translate(${left},0)`)
  leftAx.call(d3.axisLeft(y).tickValues(yTicks).tickSize(-4).tickPadding(5))
  leftAx.append('g').call(d3.axisLeft(y).tickValues(minorY).tickSize(-2).tickFormat(''))
  const rightAx = g.append('g').attr('transform', `translate(${left + width},0)`)
  rightAx.call(d3.axisRight(y).tickValues(yTicks).tickSize(-4).tickFormat(''))
  rightAx.append('g').call(d3.axisRight(y).tickValues(minorY).tickSize(-2).tickFormat(''))
  ;[bottom, topAx, leftAx, rightAx].forEach(a => {
    a.selectAll('.domain').remove()
    a.selectAll('.tick line').attr('stroke', '#444')
  })

  g.append('rect')
    .attr('x', left).attr('y', top).attr('width', width).attr('height', plotH)
    .attr('fill', 'none').attr('stroke', '#333').attr('stroke-width', 1)

  if (p.col === 0) {
    const cy = top + plotH / 2
    const lbl = g.append('text')
      .attr('transform', `translate(63,${cy}) rotate(-90)`)
      .attr('text-anchor', 'middle')
      .style('font-size', '12.5px')
      .attr('fill', '#222')
    lbl.append('tspan').attr('x', 0).attr('dy', '-0.1em').text('Joint angle [deg] /')
    lbl.append('tspan').attr('x', 0).attr('dy', '1.15em').text('Displacement [mm]')
  }
  if (p.row === 2) {
    g.append('text')
      .attr('x', timeLabelX[p.col]).attr('y', 584)
      .attr('text-anchor', 'middle')
      .style('font-size', '13.5px')
      .attr('fill', '#222')
      .text('Time [s]')
  }
})

// legend
const legendLineX = [156, 401, 647, 894, 1140]
const legendRows = [{ y: 613, suffix: ' reference', dash: '1.2,1.3', w: 1.3 }, { y: 632, suffix: ' measured', dash: null, w: 2 }]
const legend = svg.append('g')
joints.forEach((j, i) => {
  legendRows.forEach(r => {
    legend.append('line')
      .attr('x1', legendLineX[i]).attr('x2', legendLineX[i] + 37)
      .attr('y1', r.y).attr('y2', r.y)
      .attr('stroke', jointColors[i])
      .attr('stroke-width', r.w)
      .attr('stroke-dasharray', r.dash)
    narrowText(legend, legendLineX[i] + 44, r.y, j + r.suffix, 16.5, 0.85, { stroke: 0.25 })
  })
})
</script>
</body>
</html>
